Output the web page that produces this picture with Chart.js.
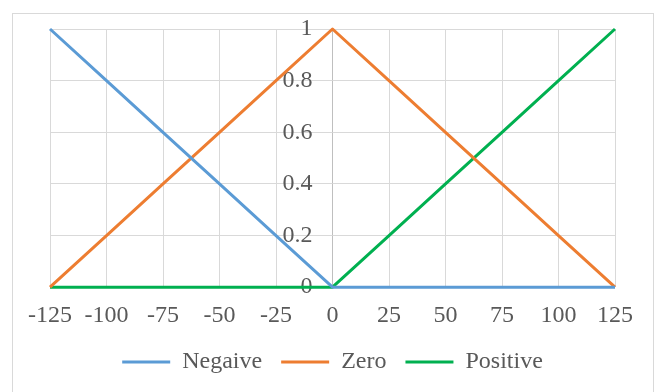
<!DOCTYPE html>
<html lang="en">
<head>
    <meta charset="UTF-8">
    <title>Membership Functions</title>
    <script src="https://cdn.jsdelivr.net/npm/chart.js"></script>
    <style>
        body { margin: 0; background: #fff; }
        #frame {
            position: absolute; left: 12px; top: 13px;
            width: 642px; height: 400px;
            border: 1px solid #d9d9d9; box-sizing: border-box;
        }
        #wrap { position: absolute; left: 0; top: 0; width: 662px; height: 392px; }
    </style>
</head>
<body>
    <div id="frame"></div>
    <div id="wrap"><canvas id="chart" width="662" height="392"></canvas></div>

    <script>
        // x positions and membership values
        const xValues = [-125, -100, -75, -50, -25, 0, 25, 50, 75, 100, 125];
        const negativeValues = [1, 0.8, 0.6, 0.4, 0.2, 0, 0, 0, 0, 0, 0];
        const zeroValues = [0, 0.2, 0.4, 0.6, 0.8, 1, 0.8, 0.6, 0.4, 0.2, 0];
        const positiveValues = [0, 0, 0, 0, 0, 0, 0.2, 0.4, 0.6, 0.8, 1];
        const seriesNames = ['Negaive', 'Zero', 'Positive'];
        const seriesColors = ['#5b9bd5', '#ed7d31', '#00b050'];

        const toPoints = vals => vals.map((v, i) => ({ x: xValues[i], y: v }));
        const allSeries = [negativeValues, zeroValues, positiveValues];

        const font = { family: '"Liberation Serif", "Times New Roman", serif', size: 24 };
        const textColor = '#595959';

        new Chart(document.getElementById('chart'), {
            type: 'line',
            data: {
                datasets: allSeries.map((vals, i) => ({
                    label: seriesNames[i],
                    data: toPoints(vals),
                    borderColor: seriesColors[i],
                    backgroundColor: seriesColors[i],
                    borderWidth: 3,
                    pointRadius: 0,
                    borderJoinStyle: 'round',
                    tension: 0,
                    clip: false
                }))
            },
            options: {
                responsive: false,
                animation: false,
                layout: { padding: { left: 50, right: 47, top: 29, bottom: 8 } },
                scales: {
                    x: {
                        type: 'linear',
                        min: -125,
                        max: 125,
                        ticks: { stepSize: 25, color: textColor, font: font, padding: 14 },
                        // the vertical line at 0 acts as the value axis, a bit darker
                        grid: {
                            color: ctx => (ctx.tick && ctx.tick.value === 0) ? '#bfbfbf' : '#d9d9d9',
                            drawTicks: false
                        },
                        border: { display: false },
                        // pull the plot down closer to the legend
                        afterFit: scale => { scale.height -= 13; }
                    },
                    y: {
                        // labels sit just left of the x = 0 line
                        position: { x: -8.8 },
                        min: 0,
                        max: 1,
                        ticks: {
                            stepSize: 0.2, color: textColor, font: font, padding: 0,
                            callback: v => String(Math.round(v * 10) / 10)
                        },
                        grid: { color: '#d9d9d9', drawTicks: false },
                        border: { display: false }
                    }
                },
                plugins: {
                    legend: {
                        position: 'bottom',
                        labels: {
                            color: textColor,
                            font: font,
                            boxWidth: 48,
                            boxHeight: 3,
                            padding: 19,
                            generateLabels: chart => chart.data.datasets.map((ds, i) => ({
                                text: ds.label,
                                fillStyle: ds.borderColor,
                                strokeStyle: ds.borderColor,
                                lineWidth: 0,
                                fontColor: textColor,
                                datasetIndex: i
                            }))
                        }
                    },
                    tooltip: { enabled: false }
                }
            }
        });
    </script>
</body>
</html>
